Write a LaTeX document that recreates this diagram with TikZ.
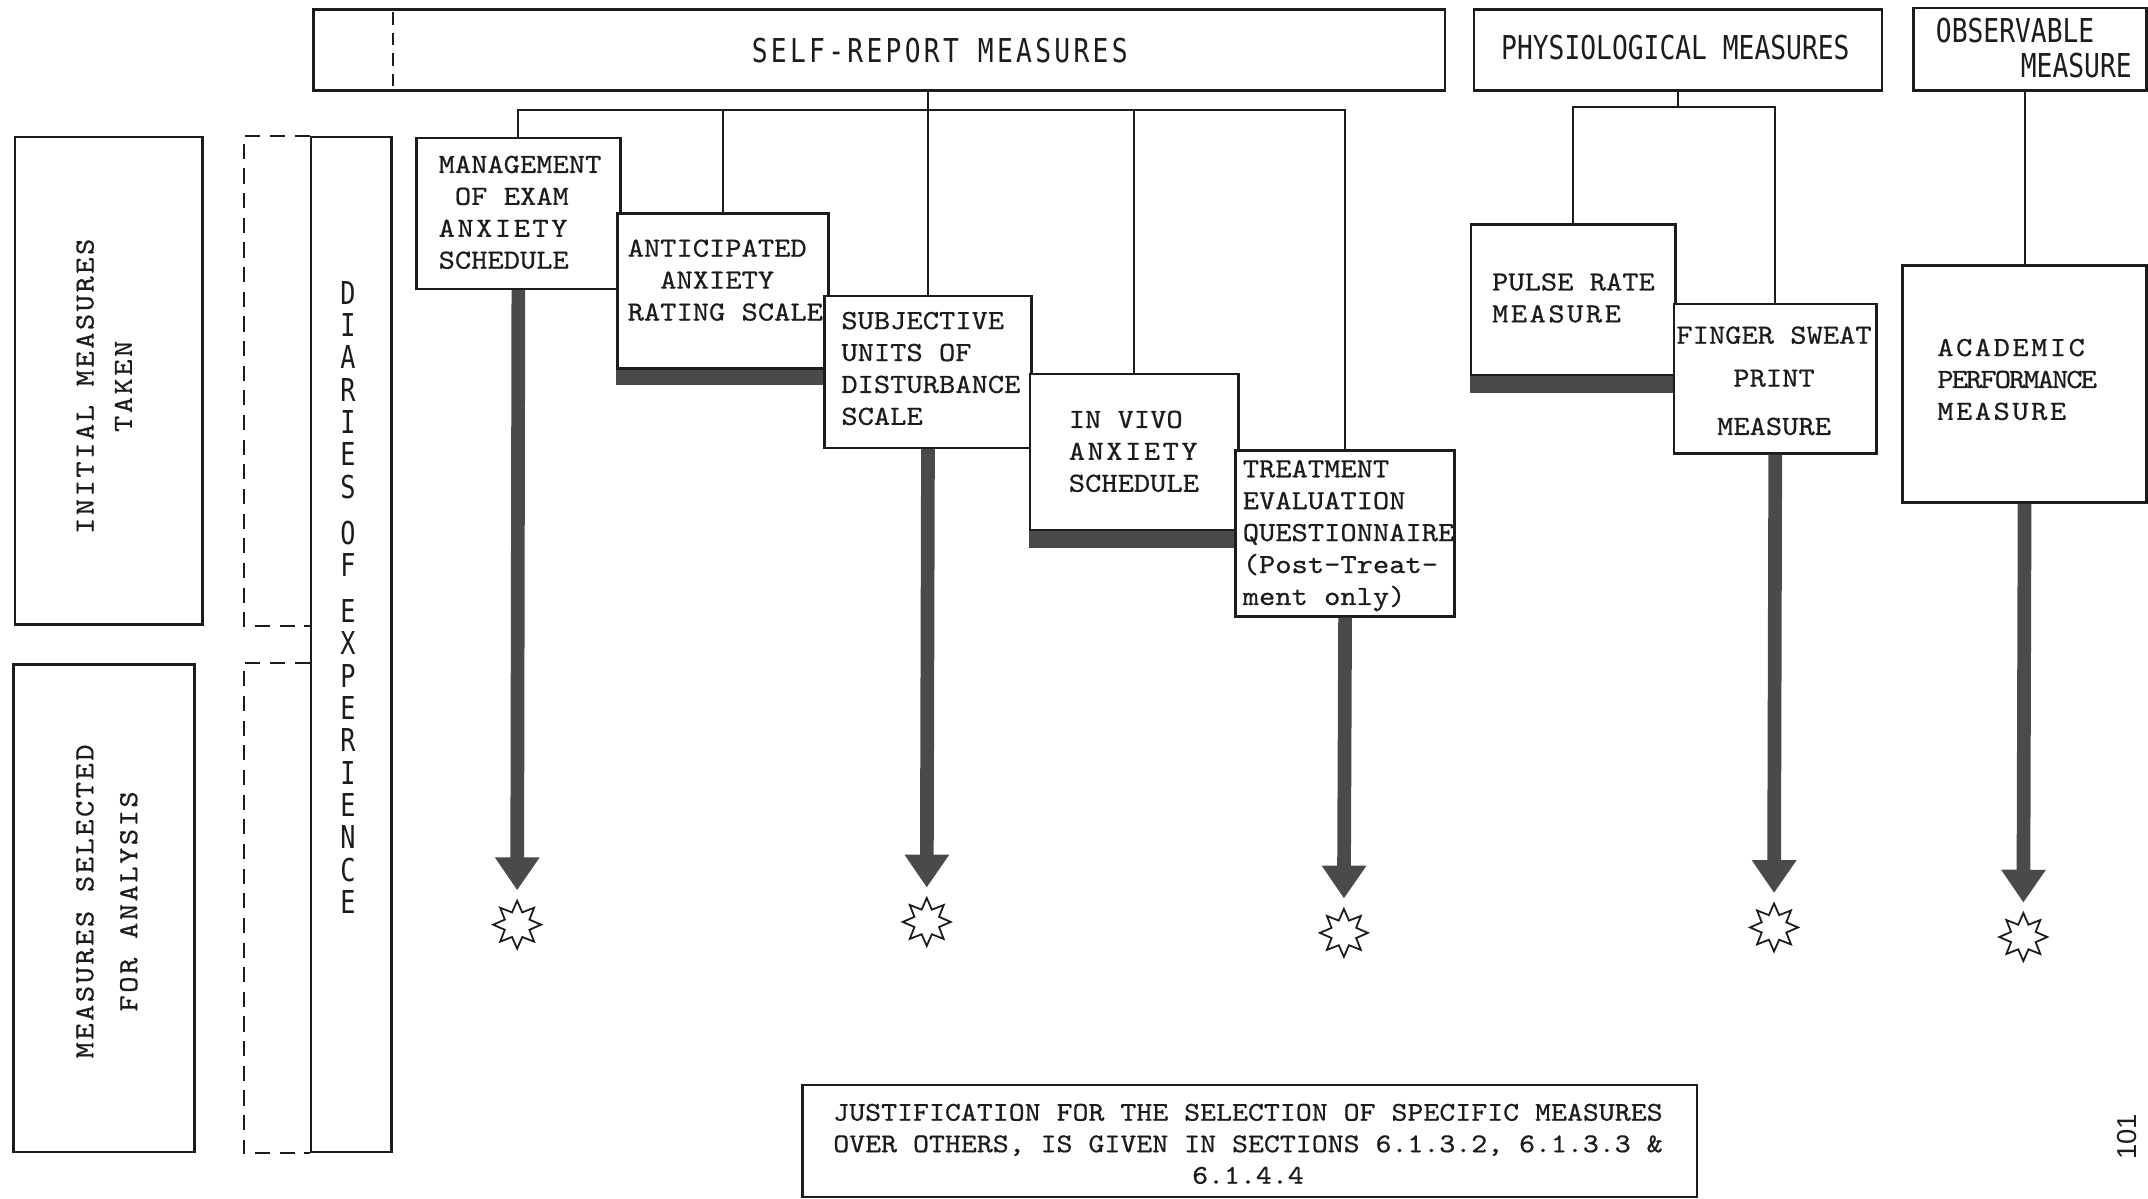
\documentclass[tikz,border=0pt]{standalone}
\usepackage{fontspec}
\usetikzlibrary{arrows.meta,shapes.geometric}

% typewriter faces
\newfontfamily\typer[FakeStretch=1.12, FakeBold=0.6]{lmmono10-regular.otf}
\newfontfamily\gothic[FakeStretch=0.8]{DejaVu Sans Mono}
\newfontfamily\folio{Liberation Sans}
\newcommand\wideletters[1]{{\addfontfeature{LetterSpace=9}#1}}
\newcommand\tightletters[1]{{\addfontfeature{LetterSpace=-7}#1}}

\definecolor{ink}{HTML}{1C1C1C}
\definecolor{slate}{HTML}{4A4A4A}

\tikzset{
  box/.style={draw=ink, line width=1.8pt, fill=white, inner sep=0pt, anchor=north west},
  boxtext/.style={font=\typer\fontsize{20.2}{23.3}\selectfont, inner sep=0pt, text=ink},
  headtext/.style={font=\gothic\fontsize{24}{28}\selectfont, inner sep=0pt, text=ink},
  link/.style={draw=ink, line width=1.5pt},
  dashline/.style={draw=ink, line width=1.6pt, dash pattern=on 11pt off 7pt},
  bigarrow/.style={draw=slate, line width=10pt, -{Triangle[width=31pt,length=24pt]}, shorten >=6pt},
  burst/.style={star, star points=8, star point ratio=1.8, minimum size=35pt, inner sep=0pt,
                draw=ink, line width=1.3pt, fill=white},
  shadowbar/.style={fill=slate},
}

\begin{document}
\begin{tikzpicture}[x=1pt, y=-1pt]
\fill[white] (0,0) rectangle (1568,875);
\useasboundingbox (0,0) rectangle (1568,875);

% ---------- column headings ----------
\node[box, minimum width=826pt, minimum height=59pt] (sr) at (228,6) {};
\draw[ink, line width=1.3pt, dash pattern=on 9pt off 6pt] (287,9) -- (287,63);
\node[headtext] (srt) at (686,37) {\addfontfeature{LetterSpace=10}SELF-REPORT MEASURES};

\node[box, minimum width=298pt, minimum height=59pt] (ph) at (1075,6) {};
\node[headtext] (pht) at (1223,35) {PHYSIOLOGICAL MEASURES};

\node[box, minimum width=170pt, minimum height=60pt] (ob) at (1396,5) {};
\node[headtext, align=left, anchor=west,
      font=\gothic\fontsize{24}{26}\selectfont] (obt) at (1413,35)
  {OBSERVABLE\\\hspace*{62pt}MEASURE};

% ---------- left-hand phase boxes ----------
\node[box, minimum width=137pt, minimum height=356pt] (init) at (10,99) {};
\node[boxtext, rotate=90, align=center] (initt) at (76,282)
  {\wideletters{INITIAL MEASURES}\\[4.7pt]\wideletters{TAKEN}};

\node[box, minimum width=132pt, minimum height=356pt] (sel) at (9,484) {};
\node[boxtext, rotate=90, align=center] (selt) at (78,658)
  {\wideletters{MEASURES SELECTED}\\[8.7pt]\wideletters{FOR ANALYSIS}};

\node[box, minimum width=59pt, minimum height=741pt] (diar) at (226,99) {};
\node[headtext, align=center, font=\gothic\fontsize{23}{23.6}\selectfont] (diart) at (254,436)
  {D\\I\\A\\R\\I\\E\\S\\[10pt]O\\F\\[10pt]E\\X\\P\\E\\R\\I\\E\\N\\C\\E};

\draw[dashline] (diar.north west) -- ++(-48,0) |- (diar.west |- init.south);
\draw[dashline] (diar.west |- sel.north) -- ++(-48,0) |- (diar.south west);

% ---------- self-report measures ----------
\node[box, minimum width=149pt, minimum height=110pt] (b1) at (303,100) {};
\node[boxtext, align=left, anchor=west] (b1t) at (320,155)
  {MANAGEMENT\\\hphantom{X}OF EXAM\\\wideletters{ANXIETY}\\SCHEDULE};

\node[box, minimum width=154pt, minimum height=113pt] (b2) at (450,155) {};
\fill[shadowbar] (b2.south west) rectangle ([yshift=-11pt]b2.south east);
\node[boxtext, align=left, anchor=west] (b2t) at (458,204.5)
  {ANTICIPATED\\\hphantom{XX}ANXIETY\\RATING SCALE};

\node[box, minimum width=151pt, minimum height=111pt] (b3) at (601,215) {};
\node[boxtext, align=left, anchor=west] (b3t) at (614,269)
  {SUBJECTIVE\\UNITS OF\\DISTURBANCE\\SCALE};

\node[box, minimum width=152pt, minimum height=114pt] (b4) at (751,272) {};
\fill[shadowbar] (b4.south west) rectangle ([yshift=-12pt]b4.south east);
\node[boxtext, align=left, anchor=west] (b4t) at (780,329.5)
  {IN VIVO\\\wideletters{ANXIETY}\\SCHEDULE};

\node[box, minimum width=160pt, minimum height=121pt] (b5) at (901,328) {};
\node[boxtext, align=left, anchor=west] (b5t) at (907,391)
  {TREATMENT\\EVALUATION\\QUESTIONNAIRE\\(Post-Treat-\\ment only)};

% ---------- physiological measures ----------
\node[box, minimum width=149pt, minimum height=110pt] (b6) at (1073,163) {};
\fill[shadowbar] (b6.south west) rectangle ([yshift=-12pt]b6.south east);
\node[boxtext, align=left, anchor=west] (b6t) at (1089,217.5)
  {PULSE RATE\\\wideletters{MEASURE}};

\node[box, minimum width=148pt, minimum height=109pt] (b7) at (1221,221) {};
\node[boxtext, align=center] (b7t) at (1295,278)
  {FINGER SWEAT\\[8pt]PRINT\\[12pt]MEASURE};

% ---------- observable measure ----------
\node[box, minimum width=178pt, minimum height=173pt] (b8) at (1388,193) {};
\node[boxtext, align=left, anchor=west] (b8t) at (1414,277)
  {\wideletters{ACADEMIC}\\\tightletters{PERFORMANCE}\\\wideletters{MEASURE}};

% ---------- tree connectors ----------
\coordinate (srbar) at (0,80);
\draw[link] (sr.south -| b3.north) -- (b3.north |- srbar);
\draw[link] (b1.north) |- (b5.north |- srbar) -- (b5.north);
\foreach \b in {b2,b3,b4} \draw[link] (\b.north |- srbar) -- (\b.north);

\coordinate (phbar) at (0,78);
\draw[link] (ph.south) -- (ph.south |- phbar);
\draw[link] (b6.north) |- (b7.north |- phbar) -- (b7.north);

\draw[link] (ob.south -| b8.north) -- (b8.north);

% ---------- selected measures ----------
\node[burst] (s1) at (377.5,675) {};
\node[burst] (s3) at (676.5,673) {};
\node[burst] (s5) at (981,681) {};
\node[burst] (s7) at (1295,677) {};
\node[burst] (s8) at (1477,684) {};

\draw[bigarrow] (b1.south) -- (s1.north);
\draw[bigarrow] (b3.south) -- (s3.north);
\draw[bigarrow] (b5.south) -- (s5.north);
\draw[bigarrow] (b7.south) -- (s7.north);
\draw[bigarrow] (b8.south) -- (s8.north);

% ---------- footnote box ----------
\node[box, minimum width=653pt, minimum height=82pt] (just) at (585,791) {};
\node[boxtext, align=center, font=\typer\fontsize{19.8}{23}\selectfont] (justt) at (911,835)
  {JUSTIFICATION FOR THE SELECTION OF SPECIFIC MEASURES\\
   OVER OTHERS, IS GIVEN IN SECTIONS 6.1.3.2, 6.1.3.3 \&\\
   6.1.4.4};

\node[font=\folio\fontsize{20}{24}\selectfont, rotate=90, text=ink, inner sep=0pt] (folio) at (1553,830) {101};
\end{tikzpicture}
\end{document}
